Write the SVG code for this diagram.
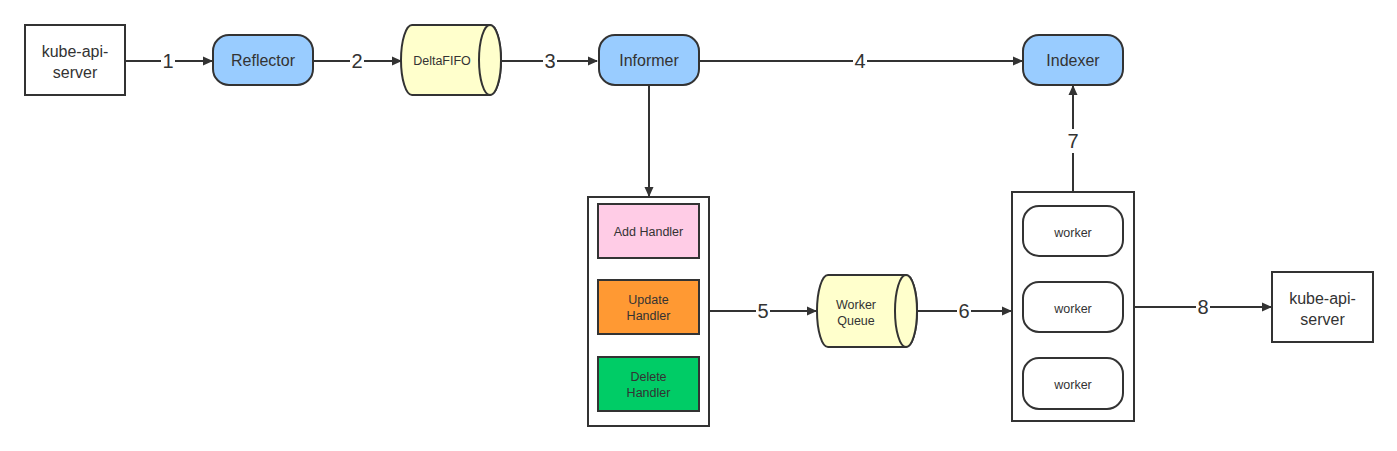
<svg xmlns="http://www.w3.org/2000/svg" width="1397" height="451" viewBox="0 0 1397 451">
<style>
.n{stroke:#333;stroke-width:2}
.t{font-family:"Liberation Sans",Arial,sans-serif;fill:#333;text-anchor:middle}
.big{font-size:16px}
.sm{font-size:12.5px}
.lbl{font-family:"Liberation Sans",Arial,sans-serif;font-size:20px;fill:#333;text-anchor:middle}
.c{stroke:#333;stroke-width:2;fill:none}
.bg{fill:#fff}
</style>
<defs>
<marker id="ar" markerWidth="10" markerHeight="10" refX="9" refY="5" orient="auto" markerUnits="userSpaceOnUse" viewBox="0 0 10 10">
<path d="M0,0.5 L10,5 L0,9.5 Z" fill="#333"/>
</marker>
</defs>
<rect width="1397" height="451" fill="#fff"/>
<g id="connectors">
<line class="c" x1="125" y1="61" x2="212" y2="61" marker-end="url(#ar)"/>
<line class="c" x1="313" y1="61" x2="401" y2="61" marker-end="url(#ar)"/>
<line class="c" x1="501" y1="61" x2="597" y2="61" marker-end="url(#ar)"/>
<line class="c" x1="699" y1="61" x2="1022" y2="61" marker-end="url(#ar)"/>
<line class="c" x1="649" y1="85" x2="649" y2="196" marker-end="url(#ar)"/>
<line class="c" x1="709" y1="311" x2="816" y2="311" marker-end="url(#ar)"/>
<line class="c" x1="917" y1="311" x2="1011" y2="311" marker-end="url(#ar)"/>
<line class="c" x1="1073" y1="192" x2="1073" y2="86" marker-end="url(#ar)"/>
<line class="c" x1="1134" y1="307" x2="1271" y2="307" marker-end="url(#ar)"/>
<rect class="bg" x="161" y="50" width="14" height="22"/>
<text class="lbl" x="168" y="68">1</text>
<rect class="bg" x="350" y="50" width="14" height="22"/>
<text class="lbl" x="357" y="68">2</text>
<rect class="bg" x="543" y="50" width="14" height="22"/>
<text class="lbl" x="550" y="68">3</text>
<rect class="bg" x="853" y="50" width="14" height="22"/>
<text class="lbl" x="860" y="68">4</text>
<rect class="bg" x="756" y="300" width="14" height="22"/>
<text class="lbl" x="763" y="318">5</text>
<rect class="bg" x="957" y="300" width="14" height="22"/>
<text class="lbl" x="964" y="318">6</text>
<rect class="bg" x="1064" y="129" width="18" height="24"/>
<text class="lbl" x="1073" y="148">7</text>
<rect class="bg" x="1196" y="296" width="14" height="22"/>
<text class="lbl" x="1203" y="314">8</text>
</g>
<g id="kube-api-server-1">
<rect class="n" x="25" y="25" width="100" height="70" fill="#fff"/>
<text class="t big" x="75" y="57">kube-api-</text>
<text class="t big" x="75" y="78">server</text>
</g>
<g id="reflector">
<rect class="n" x="213" y="35" width="100" height="50" rx="16" fill="#99CCFF"/>
<text class="t big" x="263" y="66">Reflector</text>
</g>
<g id="deltafifo">
<path class="n" d="M412,25 H490 A11,35 0 0 1 490,95 H412 A11,35 0 0 1 412,25 Z" fill="#FFFFCC"/>
<ellipse class="n" cx="490" cy="60" rx="11" ry="35" fill="#FFFFCC"/>
<text class="t sm" x="442" y="65">DeltaFIFO</text>
</g>
<g id="informer">
<rect class="n" x="599" y="35" width="100" height="50" rx="16" fill="#99CCFF"/>
<text class="t big" x="649" y="66">Informer</text>
</g>
<g id="indexer">
<rect class="n" x="1023" y="35" width="100" height="50" rx="16" fill="#99CCFF"/>
<text class="t big" x="1073" y="66">Indexer</text>
</g>
<g id="handlers">
<rect class="n" x="588" y="197" width="121" height="229" fill="#fff"/>
<rect class="n" x="598" y="204" width="101" height="54" fill="#FFCCE6"/>
<text class="t sm" x="648.5" y="236">Add Handler</text>
<rect class="n" x="598" y="280" width="101" height="54" fill="#FF9933"/>
<text class="t sm" x="648.5" y="304">Update</text>
<text class="t sm" x="648.5" y="320">Handler</text>
<rect class="n" x="598" y="357" width="101" height="54" fill="#00CC66"/>
<text class="t sm" x="648.5" y="381">Delete</text>
<text class="t sm" x="648.5" y="397">Handler</text>
</g>
<g id="worker-queue">
<path class="n" d="M828,275 H906 A11,36 0 0 1 906,347 H828 A11,36 0 0 1 828,275 Z" fill="#FFFFCC"/>
<ellipse class="n" cx="906" cy="311" rx="11" ry="36" fill="#FFFFCC"/>
<text class="t sm" x="856" y="309">Worker</text>
<text class="t sm" x="856" y="325">Queue</text>
</g>
<g id="workers">
<rect class="n" x="1012" y="192" width="122" height="229" fill="#fff"/>
<rect class="n" x="1023" y="206" width="100" height="50" rx="16" fill="#fff"/>
<text class="t sm" x="1073" y="237">worker</text>
<rect class="n" x="1023" y="282" width="100" height="50" rx="16" fill="#fff"/>
<text class="t sm" x="1073" y="313">worker</text>
<rect class="n" x="1023" y="358" width="100" height="51" rx="16" fill="#fff"/>
<text class="t sm" x="1073" y="389">worker</text>
</g>
<g id="kube-api-server-2">
<rect class="n" x="1272" y="272" width="101" height="70" fill="#fff"/>
<text class="t big" x="1322.5" y="304">kube-api-</text>
<text class="t big" x="1322.5" y="325">server</text>
</g>
</svg>
